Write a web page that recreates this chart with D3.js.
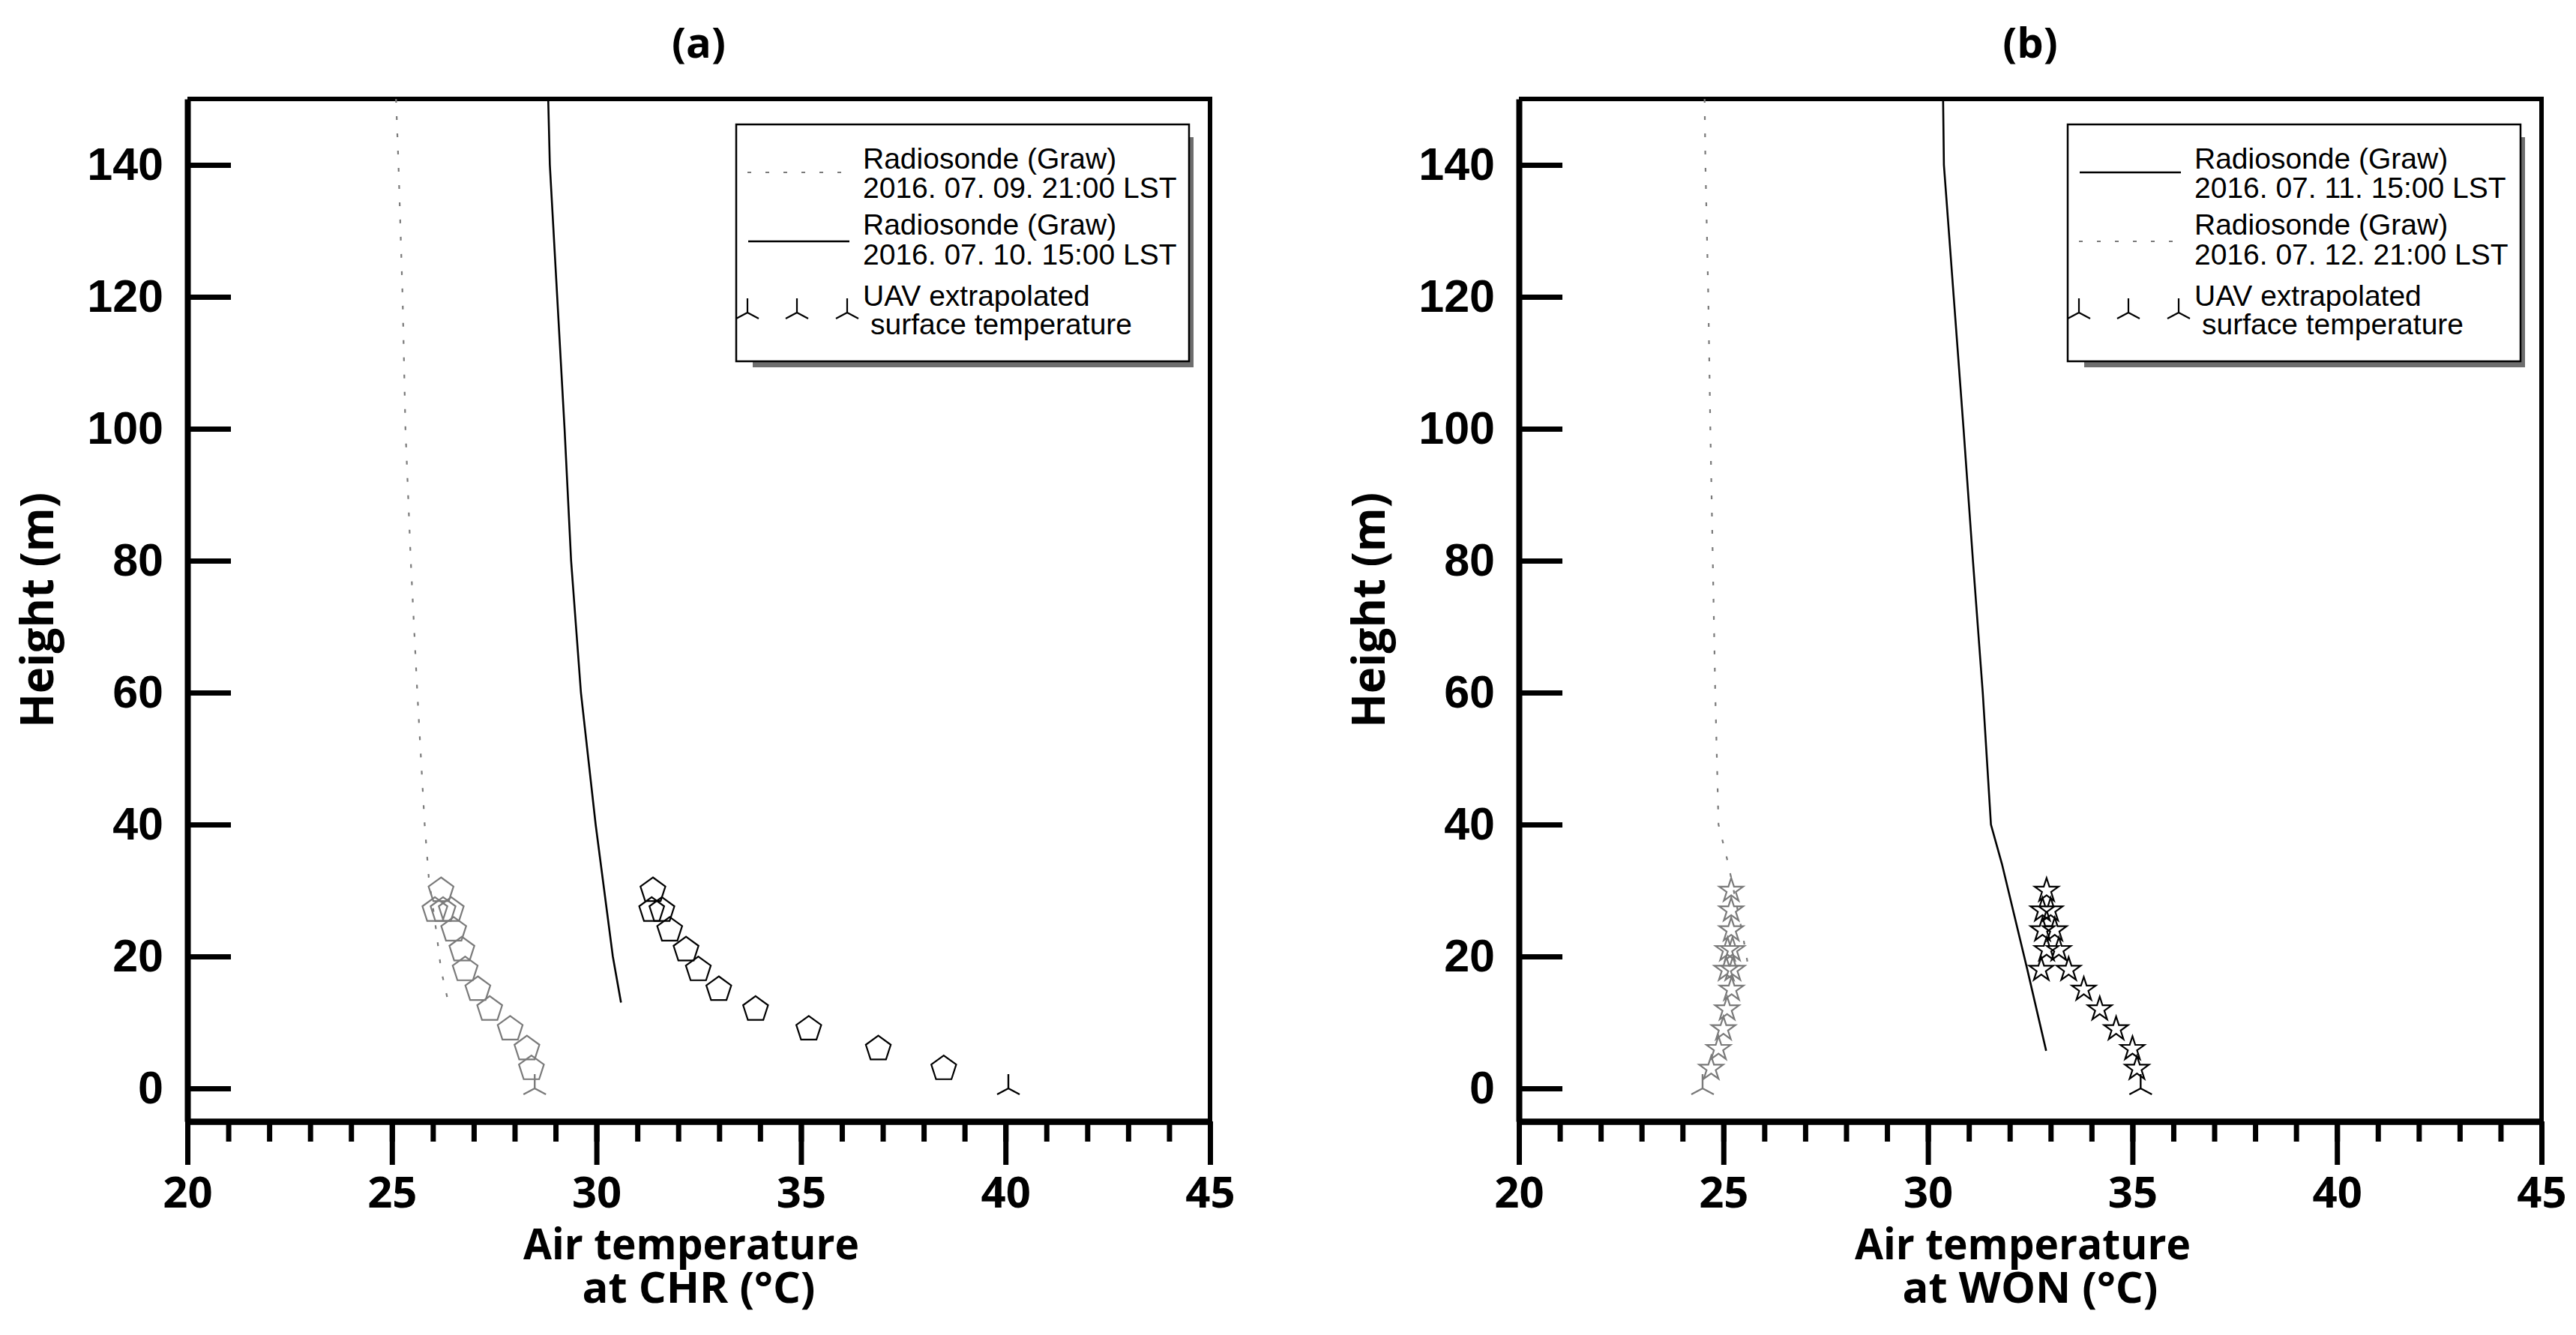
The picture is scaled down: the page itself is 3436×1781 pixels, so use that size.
<!DOCTYPE html>
<html>
<head>
<meta charset="utf-8">
<script src="https://cdn.jsdelivr.net/npm/d3@7"></script>
<style>
  html, body { margin: 0; padding: 0; background: #fff; }
  svg { display: block; }
</style>
</head>
<body>
<div id="chart"></div>
<script>
(function () {
    "use strict";

    // ─────────────────────────────────────────────
    // DATA  (t = air temperature °C, h = height m)
    // ─────────────────────────────────────────────
    const TEMP_MAJOR = [20, 25, 30, 35, 40, 45];
    const TEMP_MINOR = [20, 21, 22, 23, 24, 25, 26, 27, 28, 29, 30, 31, 32,
                        33, 34, 35, 36, 37, 38, 39, 40, 41, 42, 43, 44, 45];
    const HEIGHT_TICKS = [0, 20, 40, 60, 80, 100, 120, 140];

    // (a) CHR
    const sondeA_0709 = [
        { t: 25.10, h: 150 }, { t: 25.16, h: 140 }, { t: 25.26, h: 120 },
        { t: 25.33, h: 100 }, { t: 25.46, h: 80 }, { t: 25.62, h: 60 },
        { t: 25.80, h: 40 }, { t: 25.90, h: 32 }, { t: 26.08, h: 24 },
        { t: 26.20, h: 18 }, { t: 26.38, h: 13 },
    ];
    const sondeA_0710 = [
        { t: 28.82, h: 150 }, { t: 28.86, h: 140 }, { t: 29.04, h: 120 },
        { t: 29.22, h: 100 }, { t: 29.38, h: 80 }, { t: 29.50, h: 70 },
        { t: 29.62, h: 60 }, { t: 29.98, h: 40 }, { t: 30.40, h: 20 },
        { t: 30.60, h: 13 },
    ];
    const uavA_0709 = [
        { t: 26.20, h: 30 }, { t: 26.05, h: 27 }, { t: 26.25, h: 27 },
        { t: 26.45, h: 27 }, { t: 26.51, h: 24 }, { t: 26.71, h: 21 },
        { t: 26.79, h: 18 }, { t: 27.10, h: 15 }, { t: 27.39, h: 12 },
        { t: 27.89, h: 9 }, { t: 28.30, h: 6 }, { t: 28.41, h: 3 },
    ];
    const uavA_0710 = [
        { t: 31.38, h: 30 }, { t: 31.35, h: 27 }, { t: 31.60, h: 27 },
        { t: 31.79, h: 24 }, { t: 32.19, h: 21 }, { t: 32.49, h: 18 },
        { t: 32.99, h: 15 }, { t: 33.89, h: 12 }, { t: 35.19, h: 9 },
        { t: 36.89, h: 6 }, { t: 38.49, h: 3 },
    ];
    const surfA_0709 = [{ t: 28.49, h: 0 }];
    const surfA_0710 = [{ t: 40.07, h: 0 }];
    const legendA = [
        ["Radiosonde (Graw)", "2016. 07. 09. 21:00 LST"],
        ["Radiosonde (Graw)", "2016. 07. 10. 15:00 LST"],
        ["UAV extrapolated", "surface temperature"],
    ];

    // (b) WON
    const sondeB_0711 = [
        { t: 30.37, h: 150 }, { t: 30.39, h: 140 }, { t: 30.63, h: 120 },
        { t: 30.87, h: 100 }, { t: 31.10, h: 80 }, { t: 31.34, h: 60 },
        { t: 31.54, h: 40 }, { t: 31.81, h: 34 }, { t: 32.43, h: 18 },
        { t: 32.89, h: 5.7 },
    ];
    const sondeB_0712 = [
        { t: 24.54, h: 150 }, { t: 24.56, h: 140 }, { t: 24.63, h: 120 },
        { t: 24.68, h: 100 }, { t: 24.74, h: 80 }, { t: 24.80, h: 60 },
        { t: 24.88, h: 40 }, { t: 25.12, h: 34 }, { t: 25.48, h: 23 },
        { t: 25.62, h: 18 },
    ];
    const uavB_0711 = [
        { t: 32.90, h: 30 }, { t: 32.80, h: 27 }, { t: 33.00, h: 27 },
        { t: 32.80, h: 24 }, { t: 33.10, h: 24 }, { t: 32.90, h: 21 },
        { t: 33.20, h: 21 }, { t: 32.77, h: 18 }, { t: 33.44, h: 18 },
        { t: 33.81, h: 15 }, { t: 34.20, h: 12 }, { t: 34.60, h: 9 },
        { t: 35.00, h: 6 }, { t: 35.11, h: 3 },
    ];
    const uavB_0712 = [
        { t: 25.19, h: 30 }, { t: 25.19, h: 27 }, { t: 25.19, h: 24 },
        { t: 25.10, h: 21 }, { t: 25.22, h: 21 }, { t: 25.07, h: 18 },
        { t: 25.23, h: 18 }, { t: 25.20, h: 15 }, { t: 25.09, h: 12 },
        { t: 25.00, h: 9 }, { t: 24.88, h: 6 }, { t: 24.70, h: 3 },
    ];
    const surfB_0711 = [{ t: 35.20, h: 0 }];
    const surfB_0712 = [{ t: 24.49, h: 0 }];
    const legendB = [
        ["Radiosonde (Graw)", "2016. 07. 11. 15:00 LST"],
        ["Radiosonde (Graw)", "2016. 07. 12. 21:00 LST"],
        ["UAV extrapolated", "surface temperature"],
    ];

    // ─────────────────────────────────────────────
    // LAYOUT / STYLE
    // ─────────────────────────────────────────────
    const W = 3436, H = 1781;
    const TOP = 132, BOTTOM = 1496, PW = 1364;
    const GRAY = "#7a7a7a";
    const BOLD_FONT = "'Open Sans', 'Noto Sans', sans-serif";
    const ARIAL = "'Liberation Sans', Arial, sans-serif";

    const svg = d3.select("#chart").append("svg")
        .attr("width", W).attr("height", H)
        .style("background", "#fff");

    // marker shapes
    const pentagon = d3.lineRadial()
        .angle(a => a).radius(17.5)
        .curve(d3.curveLinearClosed)([0, 1, 2, 3, 4].map(i => i * 2 * Math.PI / 5));
    const star = d3.symbol(d3.symbolStar, 315)();
    const tri = "M0,0V-19M0,0L-15,8M0,0L15,8";

    function drawPanel(p) {
        const left = p.left;
        const x = d3.scaleLinear().domain([20, 45]).range([left, left + PW]);
        const y = d3.scaleLinear().domain([-5, 150]).range([BOTTOM, TOP]);
        const cx = left + PW / 2;
        const g = svg.append("g");

        // frame (top + right)
        g.append("path")
            .attr("d", `M${left},${TOP}H${left + PW}V${BOTTOM}`)
            .attr("fill", "none").attr("stroke", "#000").attr("stroke-width", 6);

        // radiosonde profiles
        const line = d3.line().x(d => x(d.t)).y(d => y(d.h));
        g.append("path").datum(p.dotted).attr("d", line)
            .attr("fill", "none").attr("stroke", GRAY)
            .attr("stroke-width", 2.2).attr("stroke-dasharray", "5 18");
        g.append("path").datum(p.solid).attr("d", line)
            .attr("fill", "none").attr("stroke", "#000").attr("stroke-width", 2.6);

        // UAV markers
        function markers(data, shape, color, sw) {
            g.append("g").selectAll("path").data(data).join("path")
                .attr("transform", d => `translate(${x(d.t)},${y(d.h)})`)
                .attr("d", shape)
                .attr("fill", "none").attr("stroke", color)
                .attr("stroke-width", sw).attr("stroke-linejoin", "miter");
        }
        const shape = p.marker === "star" ? star : pentagon;
        markers(p.uavGray, shape, GRAY, 2.2);
        markers(p.uavBlack, shape, "#000", 2.2);
        markers(p.surfGray, tri, GRAY, 2.4);
        markers(p.surfBlack, tri, "#000", 2.4);

        // ── Axes ──
        const gxMinor = g.append("g").attr("transform", `translate(0,${BOTTOM})`)
            .call(d3.axisBottom(x).tickValues(TEMP_MINOR).tickSize(27)
                .tickSizeOuter(0).tickFormat(""));
        const gxMajor = g.append("g").attr("transform", `translate(0,${BOTTOM})`)
            .call(d3.axisBottom(x).tickValues(TEMP_MAJOR).tickSize(58)
                .tickSizeOuter(0).tickPadding(16).tickFormat(d3.format("d")));
        const gy = g.append("g").attr("transform", `translate(${left},0)`)
            .call(d3.axisLeft(y).tickValues(HEIGHT_TICKS).tickSize(-58)
                .tickSizeOuter(0).tickPadding(32).tickFormat(d3.format("d")));

        [gxMinor, gxMajor, gy].forEach(a => {
            a.select(".domain").attr("stroke-width", 8).attr("stroke", "#000");
            a.selectAll(".tick line").attr("stroke-width", 7).attr("stroke", "#000");
        });
        gxMajor.selectAll(".tick text")
            .attr("font-family", BOLD_FONT).attr("font-weight", "bold")
            .attr("font-size", 58).attr("fill", "#000");
        gy.selectAll(".tick text")
            .attr("font-family", ARIAL).attr("font-weight", "bold")
            .attr("font-size", 61).attr("fill", "#000");

        // ── Titles ──
        g.append("text").attr("x", cx).attr("y", 77)
            .attr("text-anchor", "middle")
            .attr("font-family", BOLD_FONT).attr("font-weight", "bold")
            .attr("font-size", 56).text(p.title);

        g.append("text")
            .attr("transform", `translate(${left - 179},${(TOP + BOTTOM) / 2}) rotate(-90)`)
            .attr("text-anchor", "middle")
            .attr("font-family", BOLD_FONT).attr("font-weight", "bold")
            .attr("font-size", 60).text("Height  (m)");

        g.append("text").attr("x", cx - 10).attr("y", 1680)
            .attr("text-anchor", "middle")
            .attr("textLength", 448).attr("lengthAdjust", "spacingAndGlyphs")
            .attr("font-family", BOLD_FONT).attr("font-weight", "bold")
            .attr("font-size", 58).text("Air temperature");

        g.append("text").attr("x", cx).attr("y", 1738)
            .attr("text-anchor", "middle")
            .attr("font-family", BOLD_FONT).attr("font-weight", "bold")
            .attr("font-size", 58).text(`at ${p.site} (°C)`);

        // ── Legend ──
        const LW = 604, LH = 316;
        const lg = g.append("g").attr("transform", `translate(${left + 732},166)`);
        lg.append("rect").attr("x", 22).attr("y", LH).attr("width", LW - 16)
            .attr("height", 8).attr("fill", "#6e6e6e");
        lg.append("rect").attr("x", LW).attr("y", 17).attr("width", 6)
            .attr("height", LH - 9).attr("fill", "#6e6e6e");
        lg.append("rect").attr("width", LW).attr("height", LH)
            .attr("fill", "#fff").attr("stroke", "#000").attr("stroke-width", 2.5);

        const rowLineY = [64, 156];
        p.legendKinds.forEach((kind, i) => {
            const yy = rowLineY[i];
            if (kind === "dotted") {
                lg.append("line").attr("x1", 15).attr("x2", 140)
                    .attr("y1", yy).attr("y2", yy)
                    .attr("stroke", GRAY).attr("stroke-width", 2.2)
                    .attr("stroke-dasharray", "5 19");
            } else {
                lg.append("line").attr("x1", 16).attr("x2", 151)
                    .attr("y1", yy).attr("y2", yy)
                    .attr("stroke", "#000").attr("stroke-width", 2.6);
            }
        });
        lg.selectAll("path.tri").data([15, 81, 148]).join("path")
            .attr("class", "tri")
            .attr("transform", d => `translate(${d},251)`)
            .attr("d", tri).attr("fill", "none")
            .attr("stroke", "#000").attr("stroke-width", 2.2);

        const baselines = [[59, 98], [147, 187], [242, 280]];
        p.legend.forEach((lines, i) => {
            lines.forEach((s, j) => {
                lg.append("text")
                    .attr("x", (i === 2 && j === 1) ? 179 : 169)
                    .attr("y", baselines[i][j])
                    .attr("font-family", ARIAL).attr("font-size", 39)
                    .attr("fill", "#000").text(s);
            });
        });
    }

    drawPanel({
        left: 250, title: "(a)", site: "CHR", marker: "pentagon",
        dotted: sondeA_0709, solid: sondeA_0710,
        uavGray: uavA_0709, uavBlack: uavA_0710,
        surfGray: surfA_0709, surfBlack: surfA_0710,
        legend: legendA, legendKinds: ["dotted", "solid"],
    });
    drawPanel({
        left: 2026, title: "(b)", site: "WON", marker: "star",
        dotted: sondeB_0712, solid: sondeB_0711,
        uavGray: uavB_0712, uavBlack: uavB_0711,
        surfGray: surfB_0712, surfBlack: surfB_0711,
        legend: legendB, legendKinds: ["solid", "dotted"],
    });
})();
</script>
</body>
</html>
